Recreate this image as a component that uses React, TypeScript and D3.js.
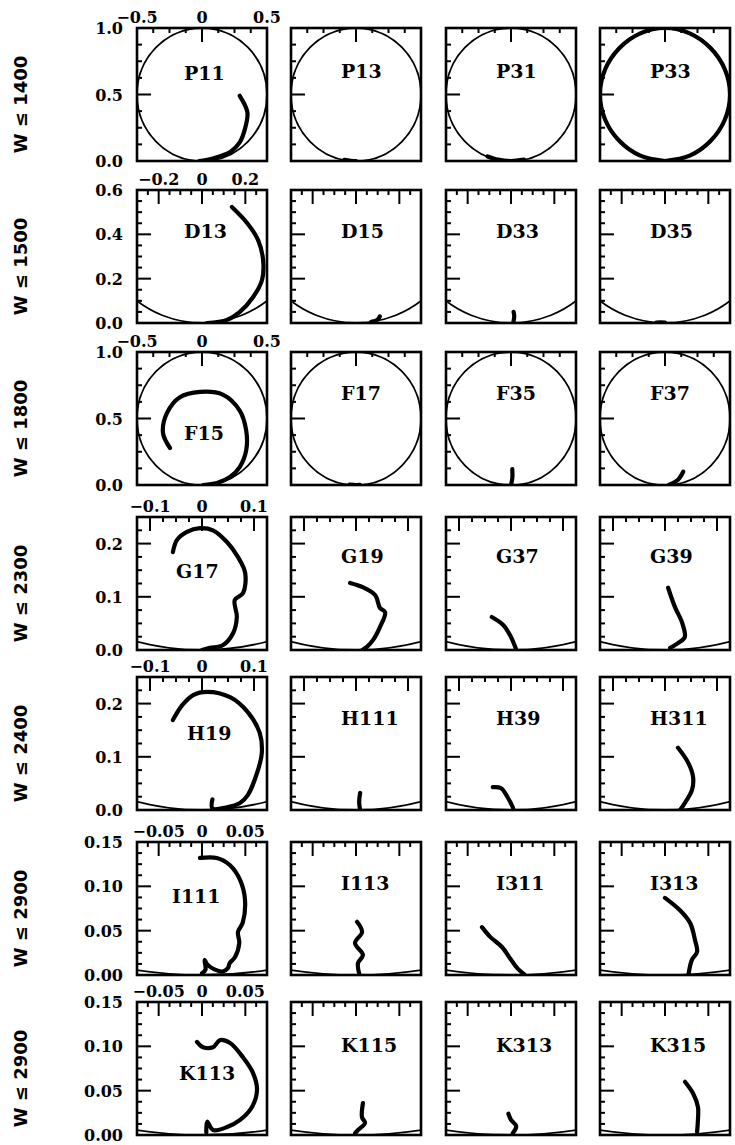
import * as d3 from "d3";

// ---- data ----
const rowLabels = ["W ≤ 1400", "W ≤ 1500", "W ≤ 1800", "W ≤ 2300", "W ≤ 2400", "W ≤ 2900", "W ≤ 2900"];

const waveLabels = [
  ["P11", "P13", "P31", "P33"],
  ["D13", "D15", "D33", "D35"],
  ["F15", "F17", "F35", "F37"],
  ["G17", "G19", "G37", "G39"],
  ["H19", "H111", "H39", "H311"],
  ["I111", "I113", "I311", "I313"],
  ["K113", "K115", "K313", "K315"],
];

const xDomains: [number, number][] = [
  [-0.5, 0.5], [-0.3, 0.3], [-0.5, 0.5], [-0.125, 0.125], [-0.125, 0.125], [-0.075, 0.075], [-0.075, 0.075],
];
const yDomains: [number, number][] = [
  [0, 1], [0, 0.6], [0, 1], [0, 0.25], [0, 0.25], [0, 0.15], [0, 0.15],
];
const majorSteps = [0.5, 0.2, 0.5, 0.1, 0.1, 0.05, 0.05];

const xTickValues = [
  [-0.5, 0, 0.5], [-0.2, 0, 0.2], [-0.5, 0, 0.5], [-0.1, 0, 0.1], [-0.1, 0, 0.1], [-0.05, 0, 0.05], [-0.05, 0, 0.05],
];
const xTickLabels = [
  ["−0.5", "0", "0.5"], ["−0.2", "0", "0.2"], ["−0.5", "0", "0.5"], ["−0.1", "0", "0.1"],
  ["−0.1", "0", "0.1"], ["−0.05", "0", "0.05"], ["−0.05", "0", "0.05"],
];
const yTickValues = [
  [0, 0.5, 1], [0, 0.2, 0.4, 0.6], [0, 0.5, 1], [0, 0.1, 0.2], [0, 0.1, 0.2], [0, 0.05, 0.1, 0.15], [0, 0.05, 0.1, 0.15],
];
const yTickLabels = [
  ["0.0", "0.5", "1.0"], ["0.0", "0.2", "0.4", "0.6"], ["0.0", "0.5", "1.0"], ["0.0", "0.1", "0.2"],
  ["0.0", "0.1", "0.2"], ["0.00", "0.05", "0.10", "0.15"], ["0.00", "0.05", "0.10", "0.15"],
];

type Pt = [number, number];

// row 1
const p11: Pt[] = [[0.29, 0.49], [0.33, 0.42], [0.35, 0.36], [0.33, 0.24], [0.29, 0.14], [0.22, 0.07], [0.12, 0.03], [0.05, 0.01], [-0.02, 0.0]];
const p13: Pt[] = [[-0.09, 0.008], [-0.04, 0.002], [0.0, 0.0]];
const p31: Pt[] = [[-0.18, 0.034], [-0.1, 0.01], [0.0, 0.0], [0.1, 0.01]];
const p33: Pt[] = [
  [0, 0], [0.19, 0.04], [0.35, 0.15], [0.46, 0.31], [0.5, 0.5], [0.46, 0.69], [0.35, 0.85], [0.19, 0.96], [0, 1],
  [-0.19, 0.96], [-0.35, 0.85], [-0.46, 0.69], [-0.5, 0.5], [-0.46, 0.31], [-0.35, 0.15], [-0.19, 0.04], [0, 0],
];
// row 2
const d13: Pt[] = [[0.138, 0.523], [0.208, 0.451], [0.259, 0.374], [0.282, 0.284], [0.277, 0.194], [0.236, 0.117], [0.175, 0.05], [0.115, 0.014], [0.023, 0.0]];
const d15: Pt[] = [[0.07, 0.005], [0.1, 0.015], [0.11, 0.03]];
const d33: Pt[] = [[0.01, 0.0], [0.015, 0.03], [0.012, 0.05]];
const d35: Pt[] = [[-0.04, 0.002], [-0.02, 0.003], [0.0, 0.002]];
// row 3
const f15: Pt[] = [[-0.246, 0.278], [-0.3, 0.39], [-0.27, 0.54], [-0.17, 0.66], [-0.015, 0.7], [0.16, 0.68], [0.29, 0.56], [0.34, 0.41], [0.34, 0.26], [0.29, 0.135], [0.215, 0.06], [0.115, 0.015], [0.01, 0.0]];
const f17: Pt[] = [[-0.05, 0.003], [0.0, 0.0], [0.03, 0.001]];
const f35: Pt[] = [[0.0, 0.0], [0.01, 0.05], [0.01, 0.12]];
const f37: Pt[] = [[0.03, 0.0], [0.1, 0.04], [0.14, 0.1]];
// row 4
const g17: Pt[] = [[-0.056, 0.184], [-0.048, 0.207], [-0.029, 0.222], [-0.004, 0.229], [0.021, 0.225], [0.048, 0.203], [0.069, 0.175], [0.083, 0.145], [0.079, 0.107], [0.063, 0.094], [0.067, 0.062], [0.06, 0.032], [0.04, 0.009], [0.015, 0.004], [0.0, 0.0]];
const g19: Pt[] = [[-0.0115, 0.126], [0.013, 0.118], [0.037, 0.103], [0.046, 0.079], [0.056, 0.071], [0.046, 0.043], [0.033, 0.019], [0.021, 0.006], [0.012, 0.0]];
const g37: Pt[] = [[-0.037, 0.062], [-0.015, 0.047], [-0.002, 0.028], [0.008, 0.006], [0.01, 0.0]];
const g39: Pt[] = [[0.006, 0.117], [0.019, 0.081], [0.033, 0.051], [0.038, 0.024], [0.025, 0.013], [0.01, 0.004]];
// row 5
const h19: Pt[] = [[0.02, 0.02], [0.02, 0.003], [0.048, 0.005], [0.073, 0.013], [0.088, 0.028], [0.106, 0.07], [0.115, 0.107], [0.111, 0.145], [0.088, 0.184], [0.054, 0.212], [0.01, 0.222], [-0.017, 0.216], [-0.038, 0.197], [-0.056, 0.169]];
const h111: Pt[] = [[0.008, 0.0], [0.006, 0.015], [0.008, 0.032]];
const h39: Pt[] = [[-0.035, 0.043], [-0.019, 0.041], [-0.006, 0.023], [0.003, 0.006], [0.005, 0.0]];
const h311: Pt[] = [[0.025, 0.117], [0.044, 0.09], [0.054, 0.062], [0.052, 0.038], [0.038, 0.013], [0.029, 0.0]];
// row 6
const i111: Pt[] = [[-0.0023, 0.132], [0.017, 0.132], [0.032, 0.124], [0.044, 0.107], [0.0496, 0.085], [0.047, 0.059], [0.0415, 0.0485], [0.043, 0.036], [0.038, 0.02], [0.032, 0.0135], [0.03, 0.008], [0.024, 0.004], [0.015, 0.006], [0.006, 0.012], [0.003, 0.017], [0.004, 0.006], [0.0, 0.002]];
const i113: Pt[] = [[0.0012, 0.06], [0.007, 0.0485], [-0.0012, 0.036], [0.008, 0.0225], [0.0023, 0.0135], [0.004, 0.0]];
const i311: Pt[] = [[-0.0335, 0.054], [-0.024, 0.043], [-0.0104, 0.0316], [-0.0012, 0.019], [0.007, 0.008], [0.016, 0.0]];
const i313: Pt[] = [[0.0, 0.087], [0.0173, 0.073], [0.029, 0.0586], [0.0346, 0.0395], [0.037, 0.026], [0.031, 0.017], [0.027, 0.0]];
// row 7
const k113: Pt[] = [[-0.0058, 0.105], [0.0012, 0.099], [0.0127, 0.099], [0.0208, 0.107], [0.032, 0.104], [0.047, 0.088], [0.0588, 0.07], [0.0635, 0.051], [0.0577, 0.0316], [0.044, 0.017], [0.029, 0.009], [0.0127, 0.0056], [0.006, 0.015], [0.005, 0.003]];
const k115: Pt[] = [[0.008, 0.036], [0.0069, 0.02], [0.0104, 0.0135], [0.0023, 0.0056], [-0.001, 0.002]];
const k313: Pt[] = [[-0.003, 0.024], [0.0, 0.017], [0.006, 0.01], [0.002, 0.002]];
const k315: Pt[] = [[0.023, 0.06], [0.0323, 0.047], [0.038, 0.0316], [0.038, 0.017], [0.037, 0.0034]];

const tracks: Pt[][][] = [
  [p11, p13, p31, p33],
  [d13, d15, d33, d35],
  [f15, f17, f35, f37],
  [g17, g19, g37, g39],
  [h19, h111, h39, h311],
  [i111, i113, i311, i313],
  [k113, k115, k313, k315],
];

// ---- layout ----
const W = 735;
const H = 1145;
const colX = [137, 291, 446, 600];
const rowY = [28, 190, 352, 517, 677, 842, 1002];
const PW = 130;
const PH = 133;
const MAJOR_LEN = 14;
const MINOR_LEN = 5;

// label placement inside each panel (dx from left edge, baseline dy from top edge)
const firstColLabelPos: [number, number][] = [[47, 52], [47, 48], [47, 88], [39, 61], [50, 63], [35, 61], [42, 78]];
const otherLabelDy = [50, 48, 48, 46, 48, 48, 50];

const tickFont = "'DejaVu Serif', serif";

function minorTicks(lo: number, hi: number, step: number) {
  const out: { v: number; major: boolean }[] = [];
  const m = step / 4;
  const k0 = Math.ceil(lo / m - 1e-9);
  const k1 = Math.floor(hi / m + 1e-9);
  for (let k = k0; k <= k1; k++) {
    const v = k * m;
    if (Math.abs(v - lo) < 1e-9 || Math.abs(v - hi) < 1e-9) continue;
    out.push({ v, major: k % 4 === 0 });
  }
  return out;
}

function Panel({ row, col }: { row: number; col: number }) {
  const left = colX[col];
  const top = rowY[row];
  const x = d3.scaleLinear().domain(xDomains[row]).range([left, left + PW]);
  const y = d3.scaleLinear().domain(yDomains[row]).range([top + PH, top]);
  const line = d3
    .line<Pt>()
    .x((d) => x(d[0]))
    .y((d) => y(d[1]))
    .curve(d3.curveCatmullRom.alpha(0.5));
  const clipId = `clip-${row}-${col}`;
  const step = majorSteps[row];
  const xt = minorTicks(xDomains[row][0], xDomains[row][1], step);
  const yt = minorTicks(yDomains[row][0], yDomains[row][1], step);
  const [ldx, ldy] = col === 0 ? firstColLabelPos[row] : [50, otherLabelDy[row]];

  return (
    <g>
      <defs>
        <clipPath id={clipId}>
          <rect x={left} y={top} width={PW} height={PH} />
        </clipPath>
      </defs>
      <g clipPath={`url(#${clipId})`}>
        <ellipse
          cx={x(0)}
          cy={y(0.5)}
          rx={x(0.5) - x(0)}
          ry={y(0) - y(0.5)}
          fill="none"
          stroke="#000"
          strokeWidth={1.8}
        />
        <path
          d={line(tracks[row][col]) ?? ""}
          fill="none"
          stroke="#000"
          strokeWidth={4.2}
          strokeLinecap="round"
          strokeLinejoin="round"
        />
      </g>
      {xt.map((t, i) => (
        <line
          key={`xt${i}`}
          x1={x(t.v)}
          x2={x(t.v)}
          y1={top}
          y2={top + (t.major ? MAJOR_LEN : MINOR_LEN)}
          stroke="#000"
          strokeWidth={2}
        />
      ))}
      {yt.map((t, i) => (
        <line
          key={`yt${i}`}
          x1={left}
          x2={left + (t.major ? MAJOR_LEN : MINOR_LEN)}
          y1={y(t.v)}
          y2={y(t.v)}
          stroke="#000"
          strokeWidth={2}
        />
      ))}
      <rect x={left} y={top} width={PW} height={PH} fill="none" stroke="#000" strokeWidth={2.6} />
      <text
        x={left + ldx}
        y={top + ldy}
        fontFamily={tickFont}
        fontWeight="bold"
        fontSize={19}
        fill="#000"
      >
        {waveLabels[row][col]}
      </text>
      {col === 0 && (
        <g fontFamily={tickFont} fontWeight="bold" fontSize={16} fill="#000">
          {xTickValues[row].map((v, i) => (
            <text key={`xl${i}`} x={x(v)} y={top - 5} textAnchor="middle">
              {xTickLabels[row][i]}
            </text>
          ))}
          {yTickValues[row].map((v, i) => (
            <text key={`yl${i}`} x={left - 14} y={y(v) + 6} textAnchor="end">
              {yTickLabels[row][i]}
            </text>
          ))}
        </g>
      )}
    </g>
  );
}

export default function App() {
  if (typeof document !== "undefined") document.body.style.margin = "0";
  return (
    <svg
      width={W}
      height={H}
      viewBox={`0 0 ${W} ${H}`}
      style={{ position: "absolute", left: 0, top: 0, background: "#fff" }}
    >
      <rect x={0} y={0} width={W} height={H} fill="#fff" />
      {rowLabels.map((lab, r) => (
        <text
          key={`rl${r}`}
          transform={`translate(27,${rowY[r] + PH / 2 + 10}) rotate(-90)`}
          textAnchor="middle"
          fontFamily="'DejaVu Sans', sans-serif"
          fontWeight="bold"
          fontSize={18}
          fill="#000"
        >
          {lab}
        </text>
      ))}
      {rowY.map((_, r) => colX.map((_, c) => <Panel key={`p${r}-${c}`} row={r} col={c} />))}
    </svg>
  );
}
